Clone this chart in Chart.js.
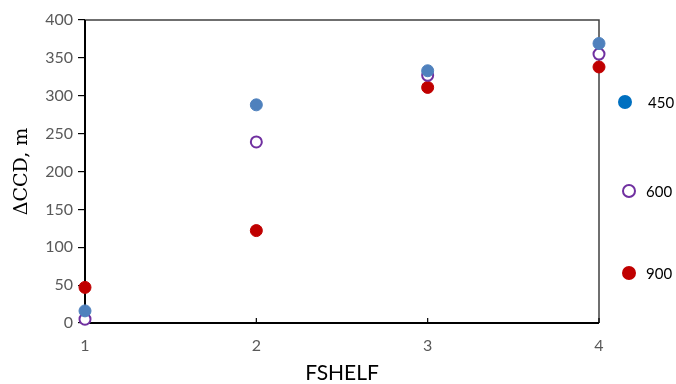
<!DOCTYPE html>
<html>
<head>
<meta charset="utf-8">
<script src="https://cdn.jsdelivr.net/npm/chart.js@4/dist/chart.umd.min.js"></script>
<style>
  html, body { margin: 0; padding: 0; background: #fff; }
  #wrap { width: 676px; height: 384px; }
</style>
</head>
<body>
<div id="wrap"><canvas id="fshelf_chart" width="676" height="384"></canvas></div>
<script>
const fshelf = [1, 2, 3, 4];
const ccd450 = [16, 288, 333, 369];
const ccd600 = [5, 239, 327, 355];
const ccd900 = [47, 122, 311, 338];
const seriesNames = ['450', '600', '900'];
const yTicks = [0, 50, 100, 150, 200, 250, 300, 350, 400];

const toPoints = (vals) => fshelf.map((x, i) => ({ x: x, y: vals[i] }));

// legend entries on the right side, drawn by hand
const legendItems = [
    { text: seriesNames[0], fill: '#0070C0', stroke: '#0070C0', cx: 625, cy: 102, tx: 648 },
    { text: seriesNames[1], fill: '#ffffff', stroke: '#7030A0', cx: 629, cy: 191, tx: 646 },
    { text: seriesNames[2], fill: '#C00000', stroke: '#C00000', cx: 629, cy: 273, tx: 646 }
];

const framePlugin = {
    id: 'frame',
    beforeDatasetsDraw(chart) {
        const { ctx, chartArea: a, scales } = chart;
        ctx.save();
        // top + right border, thin grey
        ctx.strokeStyle = '#404040';
        ctx.lineWidth = 1.5;
        ctx.beginPath();
        ctx.moveTo(a.left, a.top);
        ctx.lineTo(a.right, a.top);
        ctx.lineTo(a.right, a.bottom);
        ctx.stroke();
        // axis lines
        ctx.strokeStyle = '#000';
        ctx.lineWidth = 2;
        ctx.beginPath();
        ctx.moveTo(a.left, a.top);
        ctx.lineTo(a.left, a.bottom);
        ctx.lineTo(a.right, a.bottom);
        ctx.stroke();
        // inward ticks on x axis
        ctx.lineWidth = 1.2;
        ctx.beginPath();
        fshelf.forEach(v => {
            const px = scales.x.getPixelForValue(v);
            ctx.moveTo(px, a.bottom);
            ctx.lineTo(px, a.bottom - 5);
        });
        ctx.stroke();
        ctx.restore();
    },
    afterDraw(chart) {
        const ctx = chart.ctx;
        ctx.save();
        ctx.font = '15px Lato, "Open Sans", sans-serif';
        ctx.textBaseline = 'middle';
        legendItems.forEach(it => {
            ctx.beginPath();
            ctx.arc(it.cx, it.cy, 6, 0, Math.PI * 2);
            ctx.fillStyle = it.fill;
            ctx.fill();
            ctx.lineWidth = 2;
            ctx.strokeStyle = it.stroke;
            ctx.stroke();
            ctx.fillStyle = '#000';
            ctx.fillText(it.text, it.tx, it.cy + 1);
        });
        ctx.restore();
    }
};

const tickFont = { family: 'Lato, "Open Sans", sans-serif', size: 16 };

new Chart(document.getElementById('fshelf_chart'), {
    type: 'scatter',
    data: {
        datasets: [
            {
                label: seriesNames[0],
                data: toPoints(ccd450),
                backgroundColor: '#4F81BD',
                borderColor: '#4F81BD',
                pointRadius: 6,
                borderWidth: 1,
                clip: false
            },
            {
                label: seriesNames[1],
                data: toPoints(ccd600),
                backgroundColor: '#ffffff',
                borderColor: '#7030A0',
                pointRadius: 5.5,
                borderWidth: 2,
                clip: false
            },
            {
                label: seriesNames[2],
                data: toPoints(ccd900),
                backgroundColor: '#C00000',
                borderColor: '#C00000',
                pointRadius: 6,
                borderWidth: 1,
                clip: false
            }
        ]
    },
    options: {
        responsive: false,
        animation: false,
        layout: { padding: { top: 20, right: 77, left: 0, bottom: 0 } },
        plugins: {
            legend: { display: false },
            tooltip: { enabled: false }
        },
        scales: {
            x: {
                type: 'linear',
                min: 1,
                max: 4,
                afterBuildTicks: (s) => { s.ticks = fshelf.map(v => ({ value: v })); },
                afterFit: (s) => { s.height = 61; },
                border: { display: false },
                grid: { display: false },
                ticks: { color: '#595959', font: tickFont, padding: 5 },
                title: {
                    display: true,
                    text: 'FSHELF',
                    color: '#000',
                    font: { family: 'Lato, "Open Sans", sans-serif', size: 21, lineHeight: 1.05 },
                    padding: { top: 0, bottom: 0 }
                }
            },
            y: {
                min: 0,
                max: 400,
                afterBuildTicks: (s) => { s.ticks = yTicks.map(v => ({ value: v })); },
                afterFit: (s) => { s.width = 85; },
                border: { display: false },
                grid: {
                    drawOnChartArea: false,
                    drawTicks: true,
                    tickLength: 7,
                    color: '#000',
                    lineWidth: 1.2
                },
                ticks: { color: '#595959', font: tickFont, padding: 5 },
                title: {
                    display: true,
                    text: '\u0394CCD, m',
                    color: '#000',
                    font: { family: '"DejaVu Serif", "Liberation Serif", serif', size: 19 },
                    padding: { top: 11, bottom: 4 }
                }
            }
        }
    },
    plugins: [framePlugin]
});
</script>
</body>
</html>
